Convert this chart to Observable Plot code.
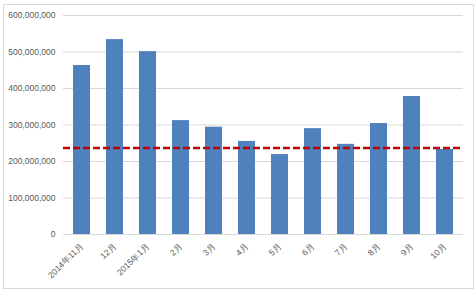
<!DOCTYPE html>
<html>
<head>
<meta charset="utf-8">
<script src="https://cdn.jsdelivr.net/npm/d3@7"></script>
<script src="https://cdn.jsdelivr.net/npm/@observablehq/plot@0.6"></script>
<style>
  html, body { margin: 0; padding: 0; background: #fff; }
  #wrap { position: relative; width: 476px; height: 291px; }
  #frame { position: absolute; left: 3px; top: 4px; width: 469px; height: 283px; border: 1px solid #d9d9d9; box-sizing: content-box; pointer-events: none; }
  #chart { position: absolute; left: 0; top: 0; }
</style>
</head>
<body>
<div id="wrap"><div id="frame"></div><div id="chart"></div></div>
<script>
const months = ["2014年11月","12月","2015年1月","2月","3月","4月","5月","6月","7月","8月","9月","10月"];
const sales = [463000000, 534000000, 501000000, 312000000, 294000000, 255000000, 219000000, 290000000, 247000000, 304000000, 378000000, 233000000];
const targetLine = [237000000];
const yTicks = [0, 100000000, 200000000, 300000000, 400000000, 500000000, 600000000];

const data = months.map((m, i) => ({month: m, value: sales[i]}));
const fmt = d3.format(",");

const chart = Plot.plot({
  width: 476,
  height: 291,
  marginLeft: 63,
  marginRight: 13,
  marginTop: 15,
  marginBottom: 57,
  style: {fontFamily: "'Liberation Sans', Arial, sans-serif", fontSize: "8.5px", color: "#595959", background: "transparent"},
  x: {domain: months, paddingInner: 0.5, paddingOuter: 0.25, label: null},
  y: {domain: [0, 600000000], label: null},
  marks: [
    Plot.gridY(yTicks, {stroke: "#d9d9d9", strokeOpacity: 1}),
    Plot.ruleY([0], {stroke: "#d9d9d9", strokeOpacity: 1}),
    Plot.barY(data, {x: "month", y: "value", fill: "#4F81BD"}),
    Plot.ruleY(targetLine, {stroke: "#C00000", strokeWidth: 2.5, strokeDasharray: "7,3"}),
    Plot.axisY(yTicks, {tickSize: 0, tickPadding: 8, tickFormat: fmt, label: null, fill: "#595959"}),
    Plot.axisX({tickSize: 0, tickPadding: 10, tickRotate: -45, label: null, fill: "#595959"})
  ]
});
document.getElementById("chart").appendChild(chart);
</script>
</body>
</html>
